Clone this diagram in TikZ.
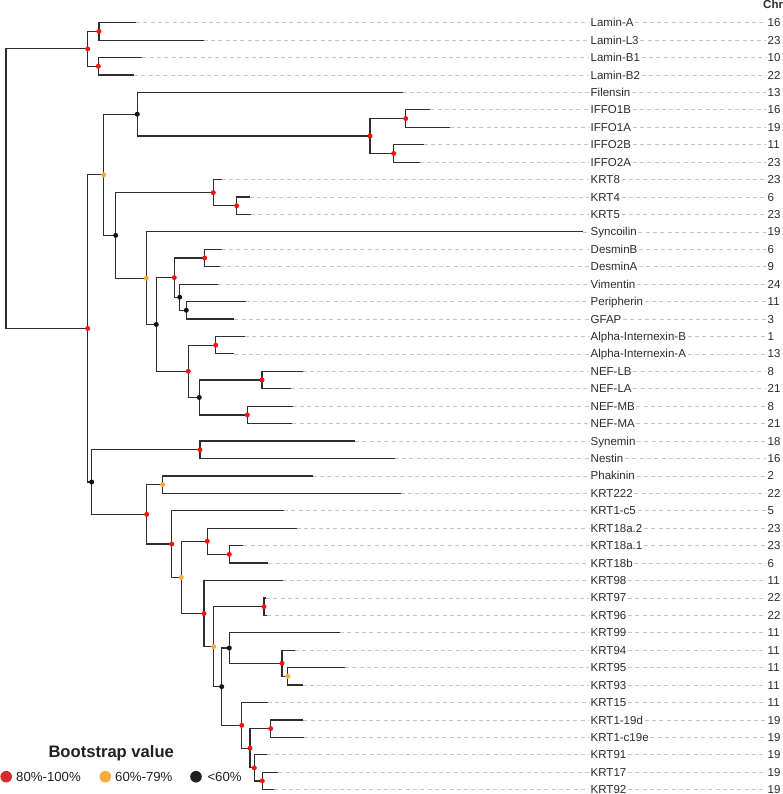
\documentclass[tikz,border=0pt]{standalone}
\usepackage{fontspec}
\setmainfont{Liberation Sans}
\definecolor{brc}{HTML}{2E2E2E}
\definecolor{gdc}{HTML}{C4C4C4}
\definecolor{txc}{HTML}{2B2B2B}
\definecolor{dotred}{HTML}{FF1010}
\definecolor{dotorange}{HTML}{F8AA3A}
\definecolor{dotblack}{HTML}{111111}
\definecolor{legred}{HTML}{D42A30}
\definecolor{legorange}{HTML}{F7AC3F}
\definecolor{legblack}{HTML}{231F20}
\tikzset{
  branch/.style={draw=brc, line width=1.25pt},
  guide/.style={draw=gdc, line width=0.7pt, dash pattern=on 4pt off 3.3pt},
  lab/.style={anchor=west, inner sep=1.5pt, text=txc, font=\fontsize{11.5}{13}\selectfont, text height=8.2pt, text depth=0pt},
  rdot/.style={circle, fill=dotred, inner sep=0pt, minimum size=5pt},
  odot/.style={circle, fill=dotorange, inner sep=0pt, minimum size=5pt},
  bdot/.style={circle, fill=dotblack, inner sep=0pt, minimum size=5pt},
  legtxt/.style={anchor=west, inner sep=0pt, text=legblack, font=\fontsize{13.2}{15}\selectfont},
}
\newcommand\leaf[5]{%
  \coordinate (#1) at (#3,{22.7+17.43*#2});
  \node[lab] (#1-l) at (589,{22.7+17.43*#2}) {#4};
  \node[lab] (#1-c) at (766,{22.7+17.43*#2}) {#5};
  \draw[guide] (#1) -- (#1-l.west);
  \draw[guide] (#1-l.east) -- (#1-c.west);
}
\newcommand\inode[3]{\coordinate (#1) at (#2,{22.7+17.43*(#3)});}
\newcommand\kids[3]{\draw[branch] (#2) -| (#1) |- (#3);}
\begin{document}
\begin{tikzpicture}[x=1pt,y=-1pt]
\useasboundingbox (0,0) rectangle (783,794);
% leaves
\leaf{L0}{0}{136}{Lamin-A}{16}
\leaf{L1}{1}{203.7}{Lamin-L3}{23}
\leaf{L2}{2}{142.3}{Lamin-B1}{10}
\leaf{L3}{3}{134}{Lamin-B2}{22}
\leaf{L4}{4}{402.7}{Filensin}{13}
\leaf{L5}{5}{430.3}{IFFO1B}{16}
\leaf{L6}{6}{450}{IFFO1A}{19}
\leaf{L7}{7}{423.7}{IFFO2B}{11}
\leaf{L8}{8}{420}{IFFO2A}{23}
\leaf{L9}{9}{221.7}{KRT8}{23}
\leaf{L10}{10}{250}{KRT4}{6}
\leaf{L11}{11}{251}{KRT5}{23}
\leaf{L12}{12}{583}{Syncoilin}{19}
\leaf{L13}{13}{221.7}{DesminB}{6}
\leaf{L14}{14}{220}{DesminA}{9}
\leaf{L15}{15}{218.3}{Vimentin}{24}
\leaf{L16}{16}{246}{Peripherin}{11}
\leaf{L17}{17}{234.3}{GFAP}{3}
\leaf{L18}{18}{245}{Alpha-Internexin-B}{1}
\leaf{L19}{19}{234.3}{Alpha-Internexin-A}{13}
\leaf{L20}{20}{302.7}{NEF-LB}{8}
\leaf{L21}{21}{291.3}{NEF-LA}{21}
\leaf{L22}{22}{292.7}{NEF-MB}{8}
\leaf{L23}{23}{292.3}{NEF-MA}{21}
\leaf{L24}{24}{355}{Synemin}{18}
\leaf{L25}{25}{394.7}{Nestin}{16}
\leaf{L26}{26}{312.7}{Phakinin}{2}
\leaf{L27}{27}{400.7}{KRT222}{22}
\leaf{L28}{28}{284}{KRT1-c5}{5}
\leaf{L29}{29}{296.7}{KRT18a.2}{23}
\leaf{L30}{30}{243.3}{KRT18a.1}{23}
\leaf{L31}{31}{268.3}{KRT18b}{6}
\leaf{L32}{32}{282.7}{KRT98}{11}
\leaf{L33}{33}{266}{KRT97}{22}
\leaf{L34}{34}{267.3}{KRT96}{22}
\leaf{L35}{35}{340}{KRT99}{11}
\leaf{L36}{36}{295}{KRT94}{11}
\leaf{L37}{37}{345}{KRT95}{11}
\leaf{L38}{38}{302.7}{KRT93}{11}
\leaf{L39}{39}{267.7}{KRT15}{11}
\leaf{L40}{40}{303.3}{KRT1-19d}{19}
\leaf{L41}{41}{303.7}{KRT1-c19e}{19}
\leaf{L42}{42}{267.3}{KRT91}{19}
\leaf{L43}{43}{278.3}{KRT17}{19}
\leaf{L44}{44}{274.3}{KRT92}{19}
\node[anchor=west, inner sep=1pt, text=txc, font=\fontsize{11.5}{13}\selectfont\bfseries] (chr) at (762,4.8) {Chr};
% internal nodes
\inode{Root}{6}{9.52}
\inode{Lam}{87.7}{1.5}
\inode{LA}{99}{0.5}
\inode{LB}{98.3}{2.5}
\inode{Big}{87.7}{17.54}
\inode{O1}{103.7}{8.727}
\inode{B1}{137.3}{5.25}
\inode{IF}{370}{6.5}
\inode{IFa}{405.7}{5.5}
\inode{IFb}{393.7}{7.5}
\inode{B2}{115.7}{12.203}
\inode{K8}{213.3}{9.75}
\inode{K45}{236.7}{10.5}
\inode{O2}{146.3}{14.656}
\inode{B3}{156.3}{17.3125}
\inode{R3}{174.3}{14.625}
\inode{Des}{204.7}{13.5}
\inode{VPG}{179.7}{15.75}
\inode{PG}{186.3}{16.5}
\inode{R4}{188.3}{20}
\inode{AI}{215.7}{18.5}
\inode{NEF}{199.3}{21.5}
\inode{NL}{262}{20.5}
\inode{NM}{247.3}{22.5}
\inode{B4}{91.7}{26.353}
\inode{SN}{200}{24.5}
\inode{R5}{146.7}{28.206}
\inode{PK}{162.7}{26.5}
\inode{R6}{171.7}{29.912}
\inode{O3}{181.3}{31.824}
\inode{K18}{207.3}{29.75}
\inode{K18b}{229.3}{30.5}
\inode{R9}{204}{33.898}
\inode{O4}{213.7}{35.797}
\inode{K97}{264}{33.5}
\inode{B5}{221.7}{38.09}
\inode{K99}{229.3}{35.875}
\inode{K94}{282}{36.75}
\inode{K95}{287.7}{37.5}
\inode{R7}{241.7}{40.3125}
\inode{R8}{250}{41.625}
\inode{K19}{270.7}{40.5}
\inode{K91}{254.3}{42.75}
\inode{K17}{262.3}{43.5}
% branches
\kids{Root}{Lam}{Big}
\kids{Lam}{LA}{LB}
\kids{LA}{L0}{L1}
\kids{LB}{L2}{L3}
\kids{Big}{O1}{B4}
\kids{O1}{B1}{B2}
\kids{B1}{L4}{IF}
\kids{IF}{IFa}{IFb}
\kids{IFa}{L5}{L6}
\kids{IFb}{L7}{L8}
\kids{B2}{K8}{O2}
\kids{K8}{L9}{K45}
\kids{K45}{L10}{L11}
\kids{O2}{L12}{B3}
\kids{B3}{R3}{R4}
\kids{R3}{Des}{VPG}
\kids{Des}{L13}{L14}
\kids{VPG}{L15}{PG}
\kids{PG}{L16}{L17}
\kids{R4}{AI}{NEF}
\kids{AI}{L18}{L19}
\kids{NEF}{NL}{NM}
\kids{NL}{L20}{L21}
\kids{NM}{L22}{L23}
\kids{B4}{SN}{R5}
\kids{SN}{L24}{L25}
\kids{R5}{PK}{R6}
\kids{PK}{L26}{L27}
\kids{R6}{L28}{O3}
\kids{O3}{K18}{R9}
\kids{K18}{L29}{K18b}
\kids{K18b}{L30}{L31}
\kids{R9}{L32}{O4}
\kids{O4}{K97}{B5}
\kids{K97}{L33}{L34}
\kids{B5}{K99}{R7}
\kids{K99}{L35}{K94}
\kids{K94}{L36}{K95}
\kids{K95}{L37}{L38}
\kids{R7}{L39}{R8}
\kids{R8}{K19}{K91}
\kids{K19}{L40}{L41}
\kids{K91}{L42}{K17}
\kids{K17}{L43}{L44}
% support dots
\foreach \n in {Lam,LA,LB,Big,IF,IFa,IFb,K8,K45,R3,Des,R4,AI,NL,NM,SN,R5,R6,K18,K18b,R9,K97,K94,R7,R8,K19,K91,K17}
  \node[rdot] (\n-d) at (\n) {};
\foreach \n in {O1,O2,PK,O3,O4,K95}
  \node[odot] (\n-d) at (\n) {};
\foreach \n in {B1,B2,B3,VPG,PG,NEF,B4,K99,B5}
  \node[bdot] (\n-d) at (\n) {};
% legend
\node[anchor=west, inner sep=0pt, text=legblack, font=\fontsize{16.6}{18}\selectfont\bfseries] (legtitle) at (48.3,752.7) {Bootstrap value};
\node[circle, fill=legred, inner sep=0pt, minimum size=11.6pt] (lr) at (6.2,776.7) {};
\node[legtxt] (lrt) at (16,776.7) {80\%-100\%};
\node[circle, fill=legorange, inner sep=0pt, minimum size=11.6pt] (lo) at (105.3,776.7) {};
\node[legtxt] (lot) at (115,776.7) {60\%-79\%};
\node[circle, fill=legblack, inner sep=0pt, minimum size=11.6pt] (lb) at (196,776.7) {};
\node[legtxt] (lbt) at (207.3,776.7) {<60\%};
\end{tikzpicture}
\end{document}
